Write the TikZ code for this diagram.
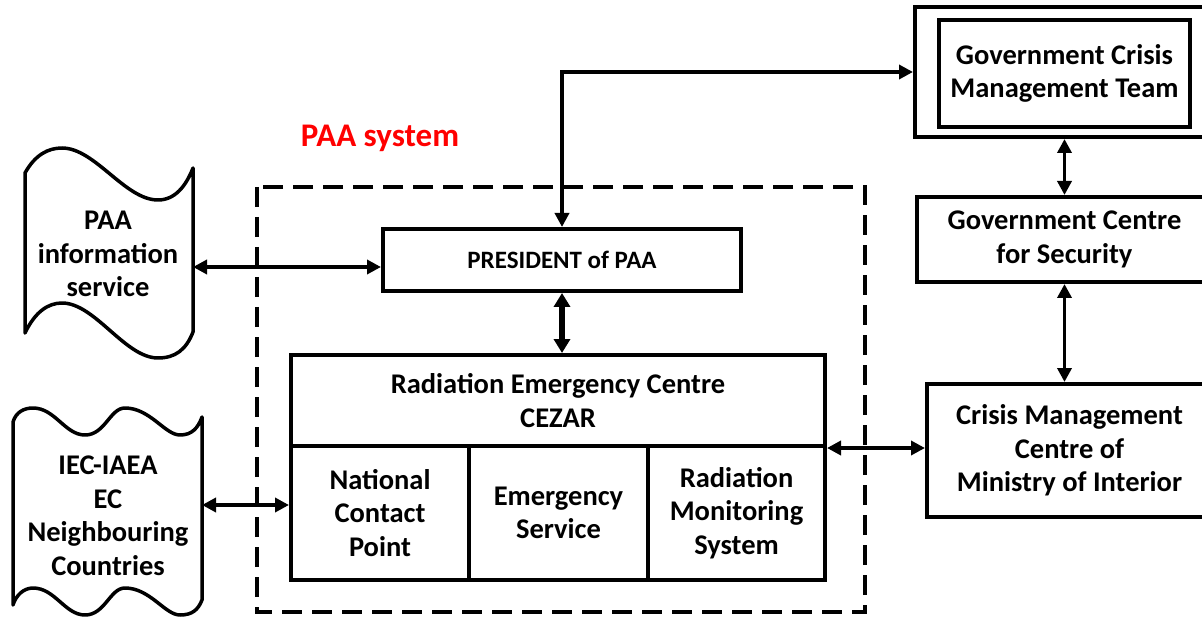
\documentclass[tikz,border=0pt]{standalone}
\usepackage{fontspec}
\setmainfont{Carlito}
\usetikzlibrary{arrows.meta}
\tikzset{
  box/.style={draw, line width=4pt, rectangle, inner sep=0pt, align=center,
    font=\fontsize{28.5}{33.5}\selectfont\bfseries},
  txt/.style={align=center, inner sep=0pt, font=\fontsize{28.5}{33.5}\selectfont\bfseries},
  dbl/.style={line width=3.5pt, {Triangle[length=14pt,width=14pt]}-{Triangle[length=14pt,width=14pt]}},
  dblthick/.style={line width=6pt, {Triangle[length=14pt,width=16pt]}-{Triangle[length=14pt,width=16pt]}},
  wave/.style={line width=3.5pt, line join=round},
  paadash/.style={line width=3.5pt, dash pattern=on 20pt off 10pt}
}
\begin{document}
\begin{tikzpicture}[x=1pt,y=-1pt]
\useasboundingbox (0,0) rectangle (1202,620);
\fill[white] (0,0) rectangle (1202,620);

% PAA system dashed frame
\draw[paadash] (257,187) rectangle (865,612);
\node[txt, text=red, font=\fontsize{33}{36}\selectfont\bfseries] (paasys) at (380,138) {PAA system};

% President
\node[box, minimum width=358pt, minimum height=62pt, font=\fontsize{25}{28}\selectfont\bfseries] (pres) at (562,260) {PRESIDENT of PAA};

% CEZAR
\node[box, minimum width=534pt, minimum height=91pt] (cezartop) at (558,400.5) {Radiation Emergency Centre\\CEZAR};
\node[box, minimum width=178pt, minimum height=134pt] (nat) at (380,513) {National\\Contact\\Point};
\node[box, minimum width=179pt, minimum height=134pt] (emer) at (558.5,513) {Emergency\\Service};
\node[box, minimum width=177pt, minimum height=134pt] (rms) at (736.5,513) {Radiation\\Monitoring\\System};

% Right column
\node[box, minimum width=297pt, minimum height=130pt] (gcmt) at (1063.5,72) {};
\node[box, minimum width=251pt, minimum height=107pt] (gcmtin) at (1064.5,73.5) {Government Crisis\\Management Team};
\node[box, minimum width=295pt, minimum height=85pt] (gcs) at (1064.5,239.5) {Government Centre\\for Security};
\node[box, minimum width=285pt, minimum height=133pt] (cmc) at (1069.5,450.5) {Crisis Management\\Centre of\\Ministry of Interior};

% PAA information service (wavy shape)
\draw[wave] (25,173) .. controls (35,155) and (48,148) .. (62,148)
  .. controls (95,148) and (125,200) .. (158,200)
  .. controls (175,200) and (186,186) .. (193,168)
  -- (193,332)
  .. controls (186,350) and (175,358) .. (158,358)
  .. controls (125,358) and (95,303) .. (62,303)
  .. controls (48,303) and (35,312) .. (25,333) -- cycle;
\node[txt] (paainfo) at (108,254) {PAA\\information\\service};
\coordinate (paaR) at (193,267);

% IEC-IAEA (wavy shape)
\draw[wave] (13,422) .. controls (16,412) and (24,408) .. (33,408)
  .. controls (55,408) and (65,435) .. (85,435)
  .. controls (105,435) and (110,408) .. (125,408)
  .. controls (150,408) and (165,435) .. (180,435)
  .. controls (192,435) and (198,428) .. (202,417)
  -- (202,600)
  .. controls (198,610) and (192,615) .. (180,615)
  .. controls (165,615) and (150,588) .. (125,588)
  .. controls (110,588) and (105,615) .. (85,615)
  .. controls (65,615) and (55,588) .. (33,588)
  .. controls (24,588) and (16,595) .. (13,605) -- cycle;
\node[txt] (iec) at (108,516) {IEC-IAEA\\EC\\Neighbouring\\Countries};
\coordinate (iecR) at (202,505);

% Connectors
\draw[dbl] (paaR) -- (paaR -| pres.west);
\draw[dbl] (iecR) -- (iecR -| nat.west);
\draw[dblthick] (pres.south) -- (pres.south |- cezartop.north);
\draw[dbl] (pres.north) |- (gcmt.west);
\draw[dbl] (gcs.north |- gcmt.south) -- (gcs.north);
\draw[dbl] (gcs.south) -- (gcs.south |- cmc.north);
\draw[dbl] (cezartop.south east) -- (cezartop.south east -| cmc.west);
\end{tikzpicture}
\end{document}
